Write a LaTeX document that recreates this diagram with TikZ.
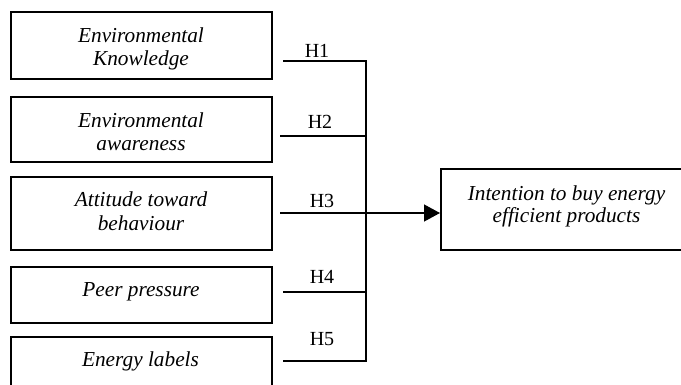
\documentclass[tikz,border=0pt]{standalone}
\usepackage{fontspec}
\setmainfont{Liberation Serif}
\usetikzlibrary{arrows.meta}
\newcommand{\twol}[3]{\fontsize{21.3}{#3}\selectfont\itshape\begin{tabular}[t]{@{}c@{}}#1\\#2\end{tabular}}
\begin{document}
\begin{tikzpicture}[x=1pt,y=-1pt,
  box/.style={draw, line width=1.6pt, inner sep=0pt},
  txt/.style={anchor=base, inner sep=0pt, font=\fontsize{21.3}{23}\selectfont\itshape},
  lab/.style={anchor=base, inner sep=0pt, font=\fontsize{20}{23}\selectfont},
  link/.style={line width=1.3pt}]
\useasboundingbox (0,0) rectangle (681,384);
\clip (0,0) rectangle (681,384);
% boxes
\node[box, minimum width=261pt, minimum height=67pt] (b1) at (141.5,45.5) {};
\node[box, minimum width=261pt, minimum height=65pt] (b2) at (141.5,129.5) {};
\node[box, minimum width=261pt, minimum height=73pt] (b3) at (141.5,213.5) {};
\node[box, minimum width=261pt, minimum height=56pt] (b4) at (141.5,295) {};
\node[box, minimum width=261pt, minimum height=60pt, anchor=north] (b5) at (141.5,336) {};
\node[box, minimum width=252pt, minimum height=81pt, anchor=north west] (out) at (440,168) {};
% texts
\node[txt] (t1) at (141,42.3) {\twol{Environmental}{Knowledge}{23}};
\node[txt] (t2) at (141,127.3) {\twol{Environmental}{awareness}{23}};
\node[txt] (t3) at (141,206.7) {\twol{Attitude toward}{behaviour}{23.5}};
\node[txt] (t4) at (141,296) {Peer pressure};
\node[txt] (t5) at (140.5,366) {Energy labels};
\node[txt] (t6) at (566.5,200) {\twol{Intention to buy energy}{efficient products}{22}};
% connectors
\coordinate (s1) at (283,61);  \coordinate (j1) at (366,61);
\coordinate (s2) at (280,136); \coordinate (j2) at (366,136);
\coordinate (s3) at (280,213); \coordinate (j3) at (366,213);
\coordinate (s4) at (283,292); \coordinate (j4) at (366,292);
\coordinate (s5) at (283,361); \coordinate (j5) at (366,361);
\draw[link] (s1) -- (j1) -- (j5) -- (s5);
\draw[link] (s2) -- (j2);
\draw[link] (s3) -- (j3);
\draw[link] (s4) -- (j4);
\draw[link, -{Triangle[length=16pt,width=17pt]}] (j3) -- (out.west |- j3);
% hypothesis labels
\node[lab] (h1) at (317,57) {H1};
\node[lab] (h2) at (320,128) {H2};
\node[lab] (h3) at (322,207) {H3};
\node[lab] (h4) at (322,283) {H4};
\node[lab] (h5) at (322,345) {H5};
\end{tikzpicture}
\end{document}
